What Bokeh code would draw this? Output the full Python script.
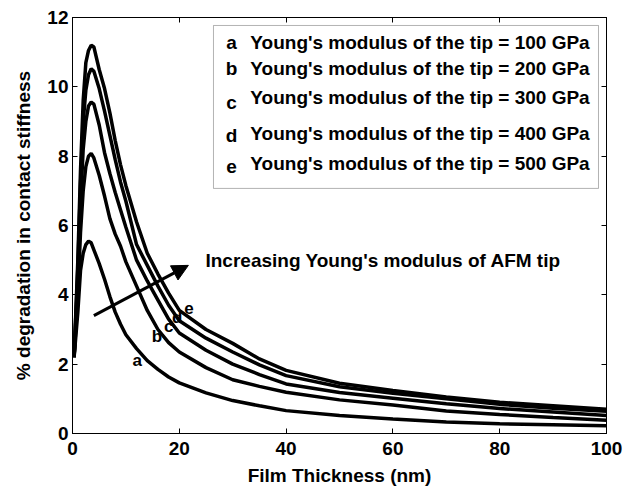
from bokeh.plotting import figure
from bokeh.models import (Range1d, LinearAxis, FixedTicker, Label, BoxAnnotation,
                          Arrow, NormalHead)
from bokeh.embed import file_html
from bokeh.resources import INLINE

# ---- data ----
thickness = [0.3, 1, 1.5, 2, 2.5, 3, 3.5, 4, 5, 6, 7, 8, 9, 10, 12, 14, 16, 18, 20,
             25, 30, 35, 40, 50, 60, 70, 80, 90, 100]
curve_a = [2.2, 3.5, 4.7, 5.2, 5.45, 5.55, 5.5, 5.3, 4.9, 4.45, 3.95, 3.5, 3.15, 2.85,
           2.45, 2.1, 1.85, 1.63, 1.46, 1.17, 0.95, 0.8, 0.66, 0.52, 0.42, 0.33, 0.28, 0.25, 0.22]
curve_b = [2.2, 4.0, 5.8, 7.0, 7.7, 8.0, 8.08, 7.95, 7.45, 6.85, 6.2, 5.75, 5.4, 4.95,
           4.25, 3.55, 3.0, 2.62, 2.35, 1.9, 1.55, 1.36, 1.19, 0.97, 0.82, 0.65, 0.55, 0.46, 0.38]
curve_c = [2.2, 4.5, 6.6, 8.2, 9.0, 9.45, 9.56, 9.5, 8.9, 8.1, 7.5, 6.95, 6.45, 5.95,
           5.0, 4.4, 3.85, 3.3, 2.9, 2.4, 2.0, 1.7, 1.43, 1.18, 1.02, 0.86, 0.72, 0.62, 0.52]
curve_d = [2.2, 4.8, 7.2, 9.0, 9.9, 10.35, 10.52, 10.45, 9.95, 9.3, 8.6, 7.9, 7.25, 6.7,
           5.45, 4.85, 4.25, 3.7, 3.25, 2.75, 2.35, 1.98, 1.67, 1.35, 1.16, 1.0, 0.84, 0.73, 0.64]
curve_e = [2.2, 5.0, 7.6, 9.6, 10.7, 11.05, 11.2, 11.15, 10.5, 9.95, 9.25, 8.45, 7.75, 7.15,
           6.1, 5.2, 4.6, 4.05, 3.55, 3.0, 2.6, 2.15, 1.82, 1.45, 1.24, 1.05, 0.9, 0.8, 0.7]

curve_letters = ["a", "b", "c", "d", "e"]
tip_moduli = [100, 200, 300, 400, 500]
x_ticks = [0, 20, 40, 60, 80, 100]
y_ticks = [0, 2, 4, 6, 8, 10, 12]

# positions of annotations (data coordinates)
curve_label_x = [12.1, 15.8, 18.0, 19.6, 21.8]
curve_label_y = [2.1, 2.8, 3.08, 3.36, 3.62]
legend_text_y = [11.29, 10.52, 9.70, 8.64, 7.78]
legend_letter_y = [11.29, 10.52, 9.56, 8.60, 7.70]

FONT = "Liberation Sans"

p = figure(width=623, height=489, x_range=Range1d(0, 100), y_range=Range1d(0, 12),
           output_backend="svg", toolbar_location=None,
           min_border_left=72, min_border_right=17, min_border_top=17, min_border_bottom=56)
p.grid.visible = False
p.outline_line_color = "black"
p.outline_line_width = 1
p.background_fill_color = "white"
p.border_fill_color = "white"

for ax in (p.xaxis[0], p.yaxis[0]):
    ax.major_tick_in = 5
    ax.major_tick_out = 0
    ax.minor_tick_line_color = None
    ax.axis_line_color = "black"
    ax.major_tick_line_color = "black"
    ax.major_label_text_font = FONT
    ax.major_label_text_font_style = "bold"
    ax.major_label_text_font_size = "19px"
    ax.major_label_text_color = "black"
    ax.axis_label_text_font = FONT
    ax.axis_label_text_font_style = "bold"
    ax.axis_label_text_font_size = "19px"
    ax.axis_label_text_color = "black"

p.xaxis[0].ticker = FixedTicker(ticks=x_ticks)
p.yaxis[0].ticker = FixedTicker(ticks=y_ticks)
p.xaxis[0].axis_label = "Film Thickness (nm)"
p.yaxis[0].axis_label = "% degradation in contact stiffness"
p.xaxis[0].major_label_standoff = 8
p.xaxis[0].axis_label_standoff = 7
p.yaxis[0].major_label_standoff = 4
p.yaxis[0].axis_label_standoff = 10

# mirrored ticks on top / right (no labels)
for side, ticks in (("above", x_ticks), ("right", y_ticks)):
    ax = LinearAxis(ticker=FixedTicker(ticks=ticks), major_tick_in=5, major_tick_out=0,
                    minor_tick_line_color=None,
                    major_label_overrides={t: "" for t in ticks},
                    major_label_standoff=0, axis_line_color="black")
    p.add_layout(ax, side)

series = [curve_a, curve_b, curve_c, curve_d, curve_e]
for ys in series:
    p.line(thickness, ys, line_color="black", line_width=3.5)

# curve letter labels
for lx, ly, t in zip(curve_label_x, curve_label_y, curve_letters):
    p.add_layout(Label(x=lx, y=ly, text=t, text_font=FONT, text_font_style="bold",
                       text_font_size="17px", text_align="center", text_baseline="middle",
                       text_color="black"))

# legend box
p.add_layout(BoxAnnotation(left=26.4, right=98.5, bottom=7.07, top=11.77,
                           fill_color="white", fill_alpha=1.0,
                           line_color="black", line_width=1))
for t, m, ty, ly in zip(curve_letters, tip_moduli, legend_text_y, legend_letter_y):
    p.add_layout(Label(x=29.8, y=ly, text=t, text_font=FONT, text_font_style="bold",
                       text_font_size="19px", text_align="center", text_baseline="middle",
                       text_color="black"))
    p.add_layout(Label(x=33.3, y=ty, text=f"Young's modulus of the tip = {m} GPa",
                       text_font=FONT, text_font_style="bold", text_font_size="19px",
                       text_align="left", text_baseline="middle", text_color="black"))

# arrow + its text
p.add_layout(Arrow(x_start=4.0, y_start=3.4, x_end=21.7, y_end=4.85,
                   line_width=3, line_color="black",
                   end=NormalHead(size=16, fill_color="black", line_color="black")))
p.add_layout(Label(x=24.9, y=5.0, text="Increasing Young's modulus of AFM tip",
                   text_font=FONT, text_font_style="bold", text_font_size="19px",
                   text_align="left", text_baseline="middle", text_color="black"))

open("out.html", "w").write(file_html(p, INLINE))
